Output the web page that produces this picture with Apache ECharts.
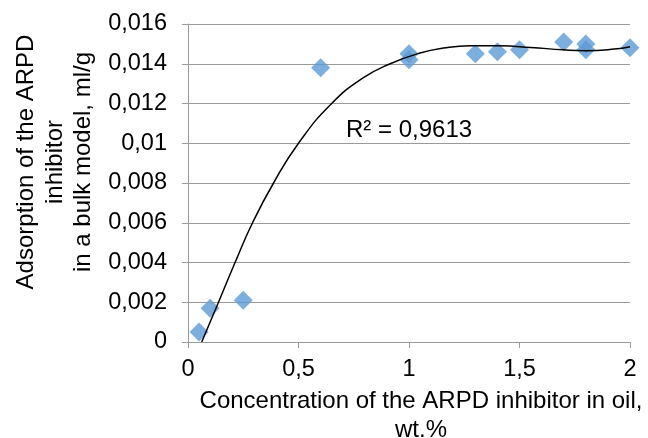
<!DOCTYPE html>
<html>
<head>
<meta charset="utf-8">
<script src="https://cdn.jsdelivr.net/npm/echarts@6/dist/echarts.min.js"></script>
<style>
html,body{margin:0;padding:0;background:#fff;overflow:hidden;}
#chart{width:648px;height:438px;}
</style>
</head>
<body>
<div id="chart"></div>
<script>
// Measured points
var concX = [0.05, 0.1, 0.25, 0.6, 1.0, 1.0, 1.3, 1.4, 1.5, 1.7, 1.8, 1.8, 2.0];
var adsY  = [0.0005, 0.0017, 0.0021, 0.0138, 0.0145, 0.0142, 0.0145, 0.0146, 0.0147, 0.0151, 0.0150, 0.0147, 0.0148];
// Trendline
var trendX = [0.062, 0.138, 0.213, 0.292, 0.387, 0.5, 0.65, 0.794, 0.915, 1.05, 1.156, 1.277, 1.41, 1.55, 1.7, 1.8, 1.93, 2.0];
var trendY = [0, 0.002, 0.004, 0.006, 0.008, 0.010, 0.012, 0.0133, 0.0140, 0.01454, 0.01479, 0.01491, 0.0149, 0.01482, 0.0147, 0.01466, 0.01474, 0.01486];
var xTicks = ['0', '0,5', '1', '1,5', '2'];
var yTitle = 'Adsorption of the ARPD\ninhibitor\nin a bulk model, ml/g';
var xTitle = 'Concentration of the ARPD inhibitor in oil,\nwt.%';
var r2Text = 'R² = 0,9613';

var FONT = "'Liberation Sans', Arial, sans-serif";
var chart = echarts.init(document.getElementById('chart'), null, {renderer: 'canvas', width: 648, height: 438});

function pairs(xs, ys) { return xs.map(function (x, i) { return [x, ys[i]]; }); }

var option = {
  animation: false,
  backgroundColor: '#fff',
  grid: {left: 188, top: 24, right: 18, bottom: 96, containLabel: false, outerBoundsMode: 'none'},
  xAxis: {
    type: 'value', min: 0, max: 2, interval: 0.5,
    name: xTitle, nameLocation: 'middle', nameGap: 42,
    nameTextStyle: {fontFamily: FONT, fontSize: 24, color: '#000', lineHeight: 29, padding: [0, 0, 0, 24]},
    axisLine: {show: true, lineStyle: {color: '#9a9a9a', width: 1}},
    axisTick: {show: true, inside: false, length: 6, lineStyle: {color: '#9a9a9a'}},
    axisLabel: {fontFamily: FONT, fontSize: 23.5, color: '#000', margin: 16,
      formatter: function (v) { return xTicks[Math.round(v / 0.5)]; }},
    splitLine: {show: false}
  },
  yAxis: {
    type: 'value', min: 0, max: 0.016, interval: 0.002,
    axisLine: {show: true, lineStyle: {color: '#9a9a9a', width: 1}},
    axisTick: {show: true, inside: false, length: 6, lineStyle: {color: '#9a9a9a'}},
    axisLabel: {fontFamily: FONT, fontSize: 23.5, color: '#000', margin: 21,
      formatter: function (v) { return String(+v.toFixed(3)).replace('.', ','); }},
    splitLine: {show: true, lineStyle: {color: '#9a9a9a', width: 1}}
  },
  graphic: [
    {type: 'text', x: 55, y: 162, rotation: Math.PI / 2,
      style: {text: yTitle, font: '24px ' + FONT, fill: '#000', align: 'center', verticalAlign: 'middle', lineHeight: 28.5}},
    {type: 'text', left: 346, top: 118,
      style: {text: r2Text, font: '24px ' + FONT, fill: '#000'}}
  ],
  series: [
    {type: 'scatter', data: pairs(concX, adsY), symbol: 'diamond', symbolSize: [19, 19],
      itemStyle: {color: '#5B9BD5'}, z: 2},
    {type: 'line', data: pairs(trendX, trendY), smooth: 0.5, showSymbol: false, symbol: 'none',
      lineStyle: {color: '#000', width: 1.5}, z: 3}
  ]
};
chart.setOption(option);
</script>
</body>
</html>
